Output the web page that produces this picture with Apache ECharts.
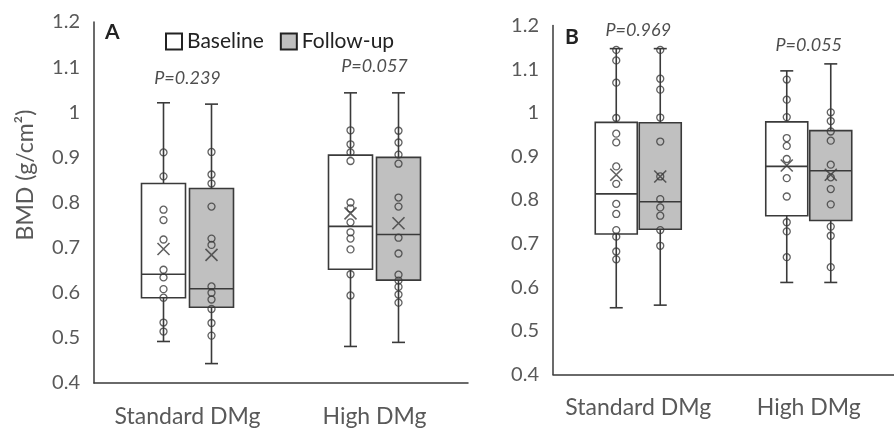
<!DOCTYPE html>
<html>
<head>
<meta charset="utf-8">
<script src="https://cdn.jsdelivr.net/npm/echarts@6/dist/echarts.min.js"></script>
<style>
  html, body { margin: 0; padding: 0; background: #fff; }
  #chart { width: 894px; height: 428px; }
</style>
</head>
<body>
<div id="chart"></div>
<script>
// categories
var categories = ['Standard DMg', 'High DMg'];

// panel A: box stats [min, Q1, median, Q3, max], means, individual points
var aBaseBox = [[0.492, 0.589, 0.641, 0.842, 1.021], [0.481, 0.652, 0.747, 0.905, 1.043]];
var aFollowBox = [[0.443, 0.568, 0.609, 0.831, 1.018], [0.490, 0.628, 0.729, 0.900, 1.043]];
var aBaseMean = [0.697, 0.776];
var aFollowMean = [0.684, 0.754];
var aStdBase = [0.911, 0.858, 0.784, 0.761, 0.718, 0.651, 0.634, 0.608, 0.589, 0.534, 0.514];
var aStdFollow = [0.912, 0.862, 0.842, 0.791, 0.720, 0.706, 0.614, 0.600, 0.585, 0.564, 0.533, 0.505];
var aHighBase = [0.960, 0.929, 0.911, 0.892, 0.800, 0.787, 0.756, 0.734, 0.720, 0.696, 0.641, 0.594];
var aHighFollow = [0.959, 0.933, 0.906, 0.886, 0.811, 0.791, 0.722, 0.687, 0.640, 0.627, 0.613, 0.596, 0.578];
var aPText = ['P=0.239', 'P=0.057'];
var aPY = [1.075, 1.103];

// panel B
var bBaseBox = [[0.553, 0.722, 0.814, 0.978, 1.147], [0.611, 0.764, 0.877, 0.979, 1.096]];
var bFollowBox = [[0.559, 0.733, 0.796, 0.977, 1.147], [0.611, 0.753, 0.867, 0.959, 1.112]];
var bBaseMean = [0.858, 0.879];
var bFollowMean = [0.854, 0.858];
var bStdBase = [1.144, 1.120, 1.069, 0.988, 0.952, 0.932, 0.877, 0.837, 0.791, 0.768, 0.731, 0.716, 0.682, 0.664];
var bStdFollow = [1.144, 1.078, 1.053, 0.989, 0.934, 0.854, 0.802, 0.783, 0.764, 0.731, 0.695];
var bHighBase = [1.076, 1.030, 0.990, 0.942, 0.924, 0.894, 0.850, 0.808, 0.749, 0.728, 0.669];
var bHighFollow = [1.001, 0.981, 0.957, 0.936, 0.881, 0.852, 0.825, 0.790, 0.739, 0.718, 0.646];
var bPText = ['P=0.969', 'P=0.055'];
var bPY = [1.189, 1.155];

var FONT = 'Lato';
var INK = '#3a3a3a';
var GREY_FILL = '#c0c0c0';

var chart = echarts.init(document.getElementById('chart'));

function boxRender(dx, w, fill) {
  return function (params, api) {
    var c = api.value(0);
    var pMin = api.coord([c, api.value(1)]);
    var pQ1 = api.coord([c, api.value(2)]);
    var pMed = api.coord([c, api.value(3)]);
    var pQ3 = api.coord([c, api.value(4)]);
    var pMax = api.coord([c, api.value(5)]);
    var x = pMin[0] + dx;
    var h = w / 2, cap = 6.5;
    var st = { stroke: INK, lineWidth: 1.6 };
    return {
      type: 'group',
      children: [
        { type: 'line', shape: { x1: x, y1: pMax[1], x2: x, y2: pQ3[1] }, style: st },
        { type: 'line', shape: { x1: x, y1: pQ1[1], x2: x, y2: pMin[1] }, style: st },
        { type: 'line', shape: { x1: x - cap, y1: pMax[1], x2: x + cap, y2: pMax[1] }, style: st },
        { type: 'line', shape: { x1: x - cap, y1: pMin[1], x2: x + cap, y2: pMin[1] }, style: st },
        { type: 'rect', shape: { x: x - h, y: pQ3[1], width: w, height: pQ1[1] - pQ3[1] },
          style: { fill: fill, stroke: INK, lineWidth: 1.6 } },
        { type: 'line', shape: { x1: x - h, y1: pMed[1], x2: x + h, y2: pMed[1] }, style: st }
      ]
    };
  };
}

function boxData(stats) {
  return stats.map(function (s, i) { return [i].concat(s); });
}
function pts(std, high) {
  return std.map(function (v) { return [0, v]; }).concat(high.map(function (v) { return [1, v]; }));
}
function means(m) {
  return m.map(function (v, i) { return [i, v]; });
}

function panelSeries(gi, baseBox, followBox, baseMean, followMean, stdB, highB, stdF, highF, pText, pY, dx, w) {
  var circle = {
    type: 'scatter', xAxisIndex: gi, yAxisIndex: gi, symbol: 'circle', symbolSize: 7, z: 5,
    itemStyle: { color: 'rgba(0,0,0,0)', borderColor: INK, borderWidth: 1.3 }, silent: true
  };
  var cross = {
    type: 'scatter', xAxisIndex: gi, yAxisIndex: gi, symbol: 'path://M0,0L10,10M10,0L0,10', symbolSize: 12, z: 6,
    itemStyle: { color: 'none', borderColor: INK, borderWidth: 1.6 }, silent: true
  };
  return [
    { name: 'Baseline', type: 'custom', xAxisIndex: gi, yAxisIndex: gi, renderItem: boxRender(-dx, w, '#ffffff'),
      data: boxData(baseBox), itemStyle: { color: '#fff' } },
    { name: 'Follow-up', type: 'custom', xAxisIndex: gi, yAxisIndex: gi, renderItem: boxRender(dx, w, GREY_FILL),
      data: boxData(followBox), itemStyle: { color: GREY_FILL } },
    Object.assign({}, circle, { symbolOffset: [-dx, 0], data: pts(stdB, highB) }),
    Object.assign({}, circle, { symbolOffset: [dx, 0], data: pts(stdF, highF) }),
    Object.assign({}, cross, { symbolOffset: [-dx, 0], data: means(baseMean) }),
    Object.assign({}, cross, { symbolOffset: [dx, 0], data: means(followMean) }),
    { type: 'scatter', xAxisIndex: gi, yAxisIndex: gi, symbolSize: 0, silent: true,
      data: pY.map(function (v, i) { return [i, v]; }),
      label: { show: true, position: 'inside', formatter: function (p) { return pText[p.dataIndex]; },
        fontFamily: FONT, fontStyle: 'italic', fontSize: 18, color: '#222' } }
  ];
}

function xAx(gi) {
  return {
    type: 'category', gridIndex: gi, data: categories,
    axisTick: { show: false },
    axisLine: { lineStyle: { color: INK, width: 1.5 } },
    axisLabel: { interval: 0, fontFamily: FONT, fontSize: 23, color: '#595959', margin: 22 }
  };
}
function yAx(gi) {
  return {
    type: 'value', gridIndex: gi, min: 0.4, max: 1.2, interval: 0.1,
    splitLine: { show: false },
    axisTick: { show: false },
    axisLine: { show: true, lineStyle: { color: INK, width: 1.5 } },
    axisLabel: { fontFamily: FONT, fontSize: 20, color: '#595959', margin: 14 }
  };
}

var option = {
  animation: false,
  grid: [
    { left: 94, top: 22, width: 374, height: 366 },
    { left: 553, top: 25.5, width: 350, height: 349 }
  ],
  xAxis: [xAx(0), xAx(1)],
  yAxis: [yAx(0), yAx(1)],
  legend: {
    left: 160, top: 26, icon: 'rect', itemWidth: 16, itemHeight: 16, itemGap: 16,
    selectedMode: false,
    textStyle: { fontFamily: FONT, fontSize: 21, color: '#222' },
    data: [
      { name: 'Baseline', itemStyle: { color: '#fff', borderColor: '#222', borderWidth: 2 } },
      { name: 'Follow-up', itemStyle: { color: GREY_FILL, borderColor: '#222', borderWidth: 2 } }
    ]
  },
  graphic: [
    { type: 'text', x: 26, y: 175, rotation: Math.PI / 2,
      style: { text: 'BMD (g/cm²)', fontFamily: FONT, fontSize: 23, fill: '#595959', align: 'center', verticalAlign: 'middle' } },
    { type: 'text', x: 105, y: 22, style: { text: 'A', fontFamily: FONT, fontWeight: 'bold', fontSize: 21, fill: '#222' } },
    { type: 'text', x: 565, y: 27, style: { text: 'B', fontFamily: FONT, fontWeight: 'bold', fontSize: 21, fill: '#222' } }
  ],
  series: [].concat(
    panelSeries(0, aBaseBox, aFollowBox, aBaseMean, aFollowMean, aStdBase, aHighBase, aStdFollow, aHighFollow, aPText, aPY, 24, 44),
    panelSeries(1, bBaseBox, bFollowBox, bBaseMean, bFollowMean, bStdBase, bHighBase, bStdFollow, bHighFollow, bPText, bPY, 22, 42)
  )
};

chart.setOption(option);
</script>
</body>
</html>
